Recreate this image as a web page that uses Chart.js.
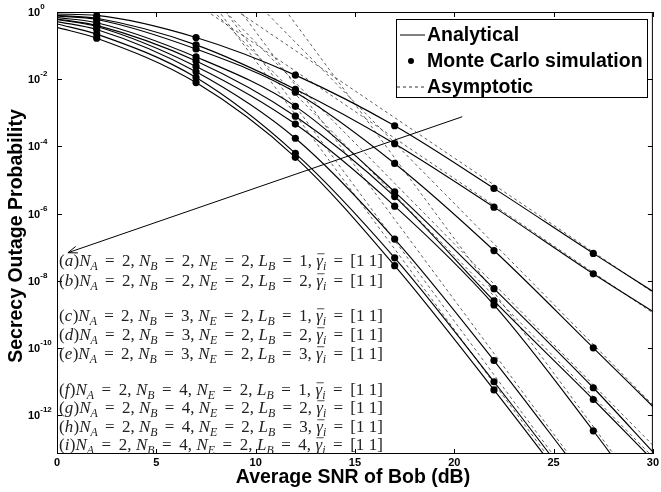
<!DOCTYPE html>
<html>
<head>
<meta charset="utf-8">
<script src="https://cdn.jsdelivr.net/npm/chart.js@4/dist/chart.umd.min.js"></script>
<style>
html, body { margin: 0; padding: 0; background: #fff; }
</style>
</head>
<body>
<canvas id="outage-chart" width="661" height="492"></canvas>
<script>
// SNR grid (dB) used for the analytical curves
const snr = [0, 2, 7, 12, 17, 22, 27, 30];
// SNR points of the Monte Carlo runs
const mcSnr = [2, 7, 12, 17, 22, 27];

// analytical secrecy outage probability, cases (a)..(i)
const caseA = [8.7e-1, 7.9e-1, 1.74e-1, 1.32e-2, 4.1e-4, 5.6e-6, 6.5e-8, 4.8e-9];
const caseB = [7.9e-1, 6.5e-1, 1.05e-1, 5.0e-3, 1.2e-4, 1.55e-6, 1.6e-8, 1.2e-9];
const caseC = [7.6e-1, 6.0e-1, 7.9e-2, 4.1e-3, 3.1e-5, 7.9e-8, 1.0e-10, 1.8e-12];
const caseD = [6.8e-1, 4.8e-1, 4.6e-2, 1.55e-3, 4.4e-6, 5.8e-9, 6.5e-12, 8e-14];
const caseE = [6.2e-1, 4.0e-1, 3.5e-2, 7.9e-4, 3.2e-6, 2.5e-9, 2.9e-12, 4.5e-14];
const caseF = [6.0e-1, 3.7e-1, 2.4e-2, 4.6e-4, 1.66e-6, 1.9e-9, 3.4e-13, 1.35e-15];
const caseG = [5.2e-1, 3.0e-1, 1.66e-2, 1.74e-4, 1.74e-7, 4.2e-11, 5.9e-15, 3.2e-17];
const caseH = [4.4e-1, 2.2e-1, 1.12e-2, 6.2e-5, 4.8e-8, 9.8e-12, 1.4e-15, 8e-18];
const caseI = [3.5e-1, 1.66e-1, 7.9e-3, 4.7e-5, 2.8e-8, 5.6e-12, 7.9e-16, 4e-18];

// asymptotic (high SNR) lines, value at 0 dB and at 30 dB
const asymSnr = [0, 30];
const asymA = [4.5e3, 4.5e-9];
const asymB = [1.1e3, 1.1e-9];
const asymC = [2.0e6, 2.0e-12];
const asymD = [1.26e5, 1.26e-13];
const asymE = [5.6e4, 5.6e-14];
const asymF = [1.8e9, 1.8e-15];
const asymG = [2.5e7, 2.8e-17];
const asymH = [6.3e6, 6.3e-18];
const asymI = [3.5e6, 3.5e-18];

const cases = [caseA, caseB, caseC, caseD, caseE, caseF, caseG, caseH, caseI];
const asyms = [asymA, asymB, asymC, asymD, asymE, asymF, asymG, asymH, asymI];

const caseLetters = ['a', 'b', 'c', 'd', 'e', 'f', 'g', 'h', 'i'];
const caseNB = [2, 2, 3, 3, 3, 4, 4, 4, 4];
const caseLB = [1, 2, 1, 2, 3, 1, 2, 3, 4];

const xTicks = [0, 5, 10, 15, 20, 25, 30];
const yTicks = [1, 1e-2, 1e-4, 1e-6, 1e-8, 1e-10, 1e-12];
const yExp = ['0', '-2', '-4', '-6', '-8', '-10', '-12'];
const yMin = Math.pow(10, -13.16);

const legendLabels = ['Analytical', 'Monte Carlo simulation', 'Asymptotic'];
// arrow from (SNR, Pout) to (SNR, Pout)
const arrowFrom = [20.4, 7.6e-4];
const arrowTo = [0.55, 6.8e-8];

const datasets = [];

// simulation points first so they are drawn on top
const mcPoints = [];
cases.forEach(c => {
    mcSnr.forEach((s, k) => {
        const v = c[k + 1];
        if (v >= yMin) mcPoints.push({x: s, y: v});
    });
});
datasets.push({
    data: mcPoints,
    showLine: false,
    pointRadius: 3.6,
    pointBackgroundColor: '#000',
    pointBorderWidth: 0
});

cases.forEach(c => {
    datasets.push({
        data: snr.map((s, k) => ({x: s, y: c[k]})),
        borderColor: '#000',
        borderWidth: 1.15,
        pointRadius: 0,
        cubicInterpolationMode: 'monotone'
    });
});

asyms.forEach(a => {
    datasets.push({
        data: asymSnr.map((s, k) => ({x: s, y: a[k]})),
        borderColor: '#333',
        borderWidth: 0.8,
        borderDash: [3, 3],
        pointRadius: 0,
        tension: 0
    });
});

const SANS = '"Liberation Sans", Arial, sans-serif';
const SERIF = '"Liberation Serif", "Times New Roman", serif';

// one case description, TeX-like spacing stretched to a given width
function drawMathLine(ctx, x, y, k, size, width) {
    // [text, style, space after (weight)]
    const parts = [
        ['(', 'r', 0], [caseLetters[k], 'i', 0.3], [')', 'r', 0],
        ['N', 'i', 0], ['A', 's', 5], ['=', 'r', 5], ['2', 'r', 0], [',', 'r', 3],
        ['N', 'i', 0], ['B', 's', 5], ['=', 'r', 5], [String(caseNB[k]), 'r', 0], [',', 'r', 3],
        ['N', 'i', 0], ['E', 's', 5], ['=', 'r', 5], ['2', 'r', 0], [',', 'r', 3],
        ['L', 'i', 0], ['B', 's', 5], ['=', 'r', 5], [String(caseLB[k]), 'r', 0], [',', 'r', 3],
        ['\u03b3', 'g', 0], ['i', 's', 5], ['=', 'r', 5], ['[1', 'r', 3], ['1]', 'r', 0]
    ];
    const fontOf = st => st === 'r' ? size + 'px ' + SERIF
        : st === 's' ? 'italic ' + (size * 0.7) + 'px ' + SERIF
        : 'italic ' + size + 'px ' + SERIF;
    let natural = 0, weights = 0;
    parts.forEach(([t, st, sp]) => {
        ctx.font = fontOf(st);
        natural += ctx.measureText(t).width;
        weights += sp;
    });
    const unit = Math.max(0, (width - natural) / weights);
    let cx = x;
    parts.forEach(([t, st, sp]) => {
        ctx.font = fontOf(st);
        const dy = st === 's' ? size * 0.22 : 0;
        ctx.fillText(t, cx, y + dy);
        const w = ctx.measureText(t).width;
        if (st === 'g') {
            ctx.beginPath();
            ctx.moveTo(cx + 1, y - size * 0.72);
            ctx.lineTo(cx + w + 1.5, y - size * 0.72);
            ctx.lineWidth = 0.8;
            ctx.stroke();
        }
        cx += w + sp * unit;
    });
}

const decorations = {
    id: 'decorations',
    afterDraw(chart) {
        const ctx = chart.ctx;
        const area = chart.chartArea;
        const xs = chart.scales.x, ys = chart.scales.y;
        ctx.save();
        ctx.strokeStyle = '#000';
        ctx.fillStyle = '#000';

        // frame and inward ticks
        ctx.lineWidth = 1;
        ctx.strokeRect(area.left + 0.5, area.top + 0.5, area.right - area.left - 1, area.bottom - area.top - 1);
        ctx.beginPath();
        xTicks.forEach(t => {
            const px = Math.round(xs.getPixelForValue(t)) + 0.5;
            ctx.moveTo(px, area.bottom); ctx.lineTo(px, area.bottom - 5);
            ctx.moveTo(px, area.top); ctx.lineTo(px, area.top + 5);
        });
        yTicks.forEach(t => {
            const py = Math.round(ys.getPixelForValue(t)) + 0.5;
            ctx.moveTo(area.left, py); ctx.lineTo(area.left + 5, py);
            ctx.moveTo(area.right, py); ctx.lineTo(area.right - 5, py);
        });
        ctx.stroke();

        // y tick labels 10^k
        ctx.textBaseline = 'middle';
        ctx.textAlign = 'left';
        yTicks.forEach((t, k) => {
            const py = ys.getPixelForValue(t);
            ctx.font = 'bold 11px ' + SANS;
            ctx.fillText('10', 28, py + 1);
            const w = ctx.measureText('10').width;
            ctx.font = 'bold 8px ' + SANS;
            ctx.fillText(yExp[k], 28 + w, py - 5);
        });

        // axis titles
        ctx.font = 'bold 19.5px ' + SANS;
        ctx.textAlign = 'center';
        ctx.fillText('Average SNR of Bob (dB)', 353, 478);
        ctx.save();
        ctx.translate(17, 236);
        ctx.rotate(-Math.PI / 2);
        ctx.fillText('Secrecy Outage Probability', 0, 0);
        ctx.restore();

        // arrow
        const x1 = xs.getPixelForValue(arrowFrom[0]), y1 = ys.getPixelForValue(arrowFrom[1]);
        const x2 = xs.getPixelForValue(arrowTo[0]), y2 = ys.getPixelForValue(arrowTo[1]);
        ctx.lineWidth = 1;
        ctx.beginPath();
        ctx.moveTo(x1, y1); ctx.lineTo(x2, y2);
        const ang = Math.atan2(y2 - y1, x2 - x1);
        ctx.moveTo(x2, y2);
        ctx.lineTo(x2 - 10 * Math.cos(ang - 0.35), y2 - 10 * Math.sin(ang - 0.35));
        ctx.moveTo(x2, y2);
        ctx.lineTo(x2 - 10 * Math.cos(ang + 0.35), y2 - 10 * Math.sin(ang + 0.35));
        ctx.stroke();

        // case descriptions
        ctx.textAlign = 'left';
        ctx.textBaseline = 'alphabetic';
        ctx.fillStyle = '#222';
        ctx.strokeStyle = '#222';
        const rows = [266, 286, 321, 340, 359, 395, 413, 432, 450];
        rows.forEach((ry, k) => drawMathLine(ctx, 59, ry, k, 17, 324));

        // legend
        ctx.fillStyle = '#fff';
        ctx.fillRect(396, 19, 251, 78);
        ctx.strokeStyle = '#000';
        ctx.lineWidth = 1;
        ctx.strokeRect(396.5, 19.5, 251, 78);
        ctx.fillStyle = '#000';
        ctx.font = 'bold 19.5px ' + SANS;
        ctx.textBaseline = 'middle';
        const ly = [35, 61, 87];
        legendLabels.forEach((t, k) => ctx.fillText(t, 427, ly[k] + 1));
        ctx.beginPath();
        ctx.moveTo(400, ly[0]); ctx.lineTo(425, ly[0]);
        ctx.stroke();
        ctx.beginPath();
        ctx.arc(411, ly[1], 3, 0, Math.PI * 2);
        ctx.fill();
        ctx.setLineDash([3, 3]);
        ctx.lineWidth = 0.8;
        ctx.beginPath();
        ctx.moveTo(397, ly[2]); ctx.lineTo(425, ly[2]);
        ctx.stroke();
        ctx.restore();
    }
};

const config = {
    type: 'line',
    data: {datasets: datasets},
    options: {
        responsive: false,
        animation: false,
        devicePixelRatio: 1,
        layout: {padding: {top: 12, right: 6, left: 0, bottom: 0}},
        plugins: {legend: {display: false}, tooltip: {enabled: false}},
        scales: {
            x: {
                type: 'linear',
                min: 0,
                max: 30,
                grid: {display: false, drawTicks: false},
                border: {display: false},
                ticks: {
                    stepSize: 5,
                    padding: 2,
                    color: '#000',
                    font: {family: 'Liberation Sans', weight: 'bold', size: 11}
                },
                afterFit: s => { s.height = 38; }
            },
            y: {
                type: 'logarithmic',
                min: yMin,
                max: 1,
                grid: {display: false, drawTicks: false},
                border: {display: false},
                ticks: {display: false},
                afterFit: s => { s.width = 57; }
            }
        }
    },
    plugins: [decorations]
};

const chart = new Chart(document.getElementById('outage-chart'), config);
</script>
</body>
</html>
